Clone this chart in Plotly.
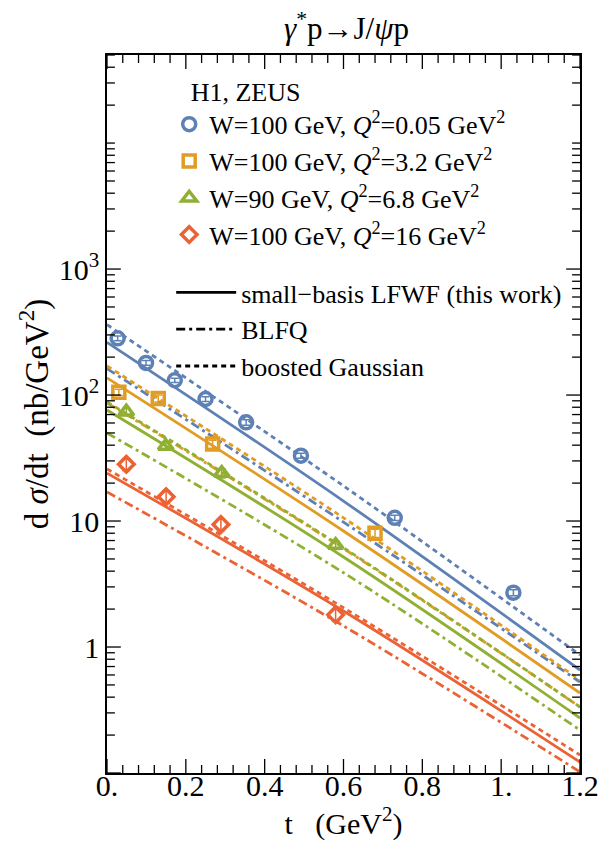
import math
import plotly.graph_objects as go

# ---------------- data ----------------
t_q005 = [0.027, 0.099, 0.172, 0.250, 0.353, 0.492, 0.730, 1.031]
y_q005 = [282, 180, 131, 93, 60.7, 33.0, 10.6, 2.70]
e_q005 = [12, 8, 5, 4, 3, 1.5, 0.5, 0.15]

t_q32 = [0.030, 0.130, 0.268, 0.680]
y_q32 = [105, 94, 40.8, 8.0]
e_q32 = [6, 6, 3, 0.6]

t_q68 = [0.049, 0.149, 0.291, 0.580]
y_q68 = [73.7, 39.4, 24.0, 6.45]
e_q68 = [5, 3, 2, 0.5]

t_q16 = [0.049, 0.150, 0.289, 0.580]
y_q16 = [28.2, 15.6, 9.4, 1.80]
e_q16 = [3.0, 1.8, 1.0, 0.19]

t_model = [0.0, 0.6, 1.2]
# model curves: LFWF (solid), BLFQ (dash-dot), boosted Gaussian (dotted)
lfwf_q005 = [262, 14.4, 0.657]
blfq_q005 = [162, 9.8, 0.527]
bg_q005 = [362, 19.0, 0.864]

lfwf_q32 = [137, 8.33, 0.431]
blfq_q32 = [86.4, 6.05, 0.334]
bg_q32 = [170, 10.6, 0.547]

lfwf_q68 = [76, 5.18, 0.273]
blfq_q68 = [49.9, 3.89, 0.219]
bg_q68 = [88, 6.13, 0.334]

lfwf_q16 = [24.0, 1.93, 0.122]
blfq_q16 = [17.0, 1.47, 0.102]
bg_q16 = [25.9, 2.05, 0.139]

labels = [
    "W=100 GeV, <i>Q</i><sup>2</sup>=0.05 GeV<sup>2</sup>",
    "W=100 GeV, <i>Q</i><sup>2</sup>=3.2 GeV<sup>2</sup>",
    "W=90 GeV, <i>Q</i><sup>2</sup>=6.8 GeV<sup>2</sup>",
    "W=100 GeV, <i>Q</i><sup>2</sup>=16 GeV<sup>2</sup>",
]
model_labels = ["small\u2212basis LFWF (this work)", "BLFQ", "boosted Gaussian"]

x_ticks = [0, 0.2, 0.4, 0.6, 0.8, 1.0, 1.2]
x_ticktext = ["0.", "0.2", "0.4", "0.6", "0.8", "1.", "1.2"]
y_ticks = [1, 10, 100, 1000]
y_ticktext = ["1", "10", "10<sup>2</sup>", "10<sup>3</sup>"]

X_RANGE = [0, 1.2]
Y_RANGE_LOG = [-1, 4.699]

colors = ["#5E81B5", "#E19C24", "#8FB032", "#EB6235"]
symbols = ["circle-open", "square-open", "triangle-up-open", "diamond-open"]

FONT = "Liberation Serif"
DOT = "5px,4px"
DASHDOT = "9px,4px,3px,4px"

# plot-area size in px (for tick lengths)
PW, PH = 479, 718

fig = go.Figure()

sets = [
    (t_q005, y_q005, e_q005, lfwf_q005, blfq_q005, bg_q005),
    (t_q32, y_q32, e_q32, lfwf_q32, blfq_q32, bg_q32),
    (t_q68, y_q68, e_q68, lfwf_q68, blfq_q68, bg_q68),
    (t_q16, y_q16, e_q16, lfwf_q16, blfq_q16, bg_q16),
]

for i, (t, y, e, lf, bl, bg) in enumerate(sets):
    c = colors[i]
    for vals, dash in ((bg, DOT), (bl, DASHDOT), (lf, "solid")):
        fig.add_trace(go.Scatter(x=t_model, y=vals, mode="lines",
                                 line=dict(color=c, width=2.8, dash=dash,
                                           shape="spline", smoothing=1),
                                 showlegend=False, hoverinfo="skip"))

msizes = [13, 12, 13, 12]
for i, (t, y, e, lf, bl, bg) in enumerate(sets):
    c = colors[i]
    fig.add_trace(go.Scatter(
        x=t, y=y, mode="markers", name=labels[i],
        marker=dict(symbol=symbols[i], size=msizes[i], color=c,
                    line=dict(color=c, width=3.5)),
        error_y=dict(type="data", array=e, color=c, thickness=1.5, width=4),
        legend="legend", legendgroup="g%d" % i))

for j, dash in enumerate(["solid", DASHDOT, DOT]):
    fig.add_trace(go.Scatter(
        x=[None], y=[None], mode="lines", name=model_labels[j],
        line=dict(color="black", width=2.8, dash=dash),
        legend="legend2", legendgroup="m%d" % j))

# helper trace so that the label axis x2 is drawn
fig.add_trace(go.Scatter(x=[None], y=[None], xaxis="x2", showlegend=False, hoverinfo="skip"))

# ---------------- tick marks (drawn as shapes on all four sides) ----------------
tick_line = dict(color="black", width=1.3)
MAJ, MIN = 14, 8
x_minor = [round(0.04 * k, 2) for k in range(31)]
for v in x_minor:
    L = MAJ if any(abs(v - m) < 1e-9 for m in x_ticks) else MIN
    xp = (v - X_RANGE[0]) / (X_RANGE[1] - X_RANGE[0])
    fig.add_shape(type="line", xref="paper", yref="paper", x0=xp, x1=xp, y0=0, y1=L / PH, line=tick_line)
    fig.add_shape(type="line", xref="paper", yref="paper", x0=xp, x1=xp, y0=1, y1=1 - L / PH, line=tick_line)

y_tick_all = [k * 10.0 ** d for d in range(-1, 5) for k in range(1, 10)]
for v in y_tick_all:
    lv = math.log10(v)
    if lv < Y_RANGE_LOG[0] - 1e-9 or lv > Y_RANGE_LOG[1]:
        continue
    L = MAJ if v in y_ticks or abs(v - 0.1) < 1e-12 else MIN
    yp = (lv - Y_RANGE_LOG[0]) / (Y_RANGE_LOG[1] - Y_RANGE_LOG[0])
    fig.add_shape(type="line", xref="paper", yref="paper", x0=0, x1=L / PW, y0=yp, y1=yp, line=tick_line)
    fig.add_shape(type="line", xref="paper", yref="paper", x0=1, x1=1 - L / PW, y0=yp, y1=yp, line=tick_line)

fig.update_layout(
    width=611, height=849,
    margin=dict(l=107, r=25, t=55, b=76),
    paper_bgcolor="white", plot_bgcolor="white",
    font=dict(family=FONT, color="black"),
    title=dict(text="<i>γ</i><sup>*</sup>p\u2192J/<i>ψ</i>p",
               x=(107 + 586) / 2 / 611, xanchor="center",
               y=1 - 28 / 849, yanchor="middle",
               font=dict(family=FONT, size=31, color="black")),
    legend=dict(x=(170 - 107) / PW, y=1 - (67 - 55) / PH, xanchor="left", yanchor="top",
                bgcolor="rgba(0,0,0,0)", borderwidth=0,
                font=dict(family=FONT, size=26, color="black"),
                title=dict(text="\u00a0\u00a0\u00a0H1, ZEUS", font=dict(family=FONT, size=26)),
                tracegroupgap=0, itemwidth=30),
    legend2=dict(x=(172 - 107) / PW, y=1 - (269 - 55) / PH, xanchor="left", yanchor="top",
                 bgcolor="rgba(0,0,0,0)", borderwidth=0,
                 font=dict(family=FONT, size=26, color="black"),
                 tracegroupgap=0, itemwidth=60),
)

fig.update_layout(
    xaxis=dict(
        range=X_RANGE, showticklabels=False, ticks="",
        showline=True, linecolor="black", linewidth=1.5, mirror=True,
        showgrid=False, zeroline=False,
    ),
    xaxis2=dict(
        overlaying="x", matches="x", anchor="free", position=8 / PH, side="bottom",
        range=X_RANGE, tickmode="array", tickvals=x_ticks, ticktext=x_ticktext,
        showline=False, ticks="", showgrid=False, zeroline=False,
        tickfont=dict(family=FONT, size=30, color="black"),
        title=dict(text="t   (GeV<sup>2</sup>)", font=dict(family=FONT, size=30), standoff=4),
    ),
    yaxis=dict(
        type="log", range=Y_RANGE_LOG, tickmode="array", tickvals=y_ticks, ticktext=y_ticktext,
        showline=True, linecolor="black", linewidth=1.5, mirror=True, ticks="",
        showgrid=False, zeroline=False,
        tickfont=dict(family=FONT, size=30, color="black"),
        title=dict(text="d <i>σ</i>/dt  (nb/GeV<sup>2</sup>)\u00a0\u00a0\u00a0\u00a0",
                   font=dict(family=FONT, size=33), standoff=0),
    ),
)

fig.write_html("out.html")
